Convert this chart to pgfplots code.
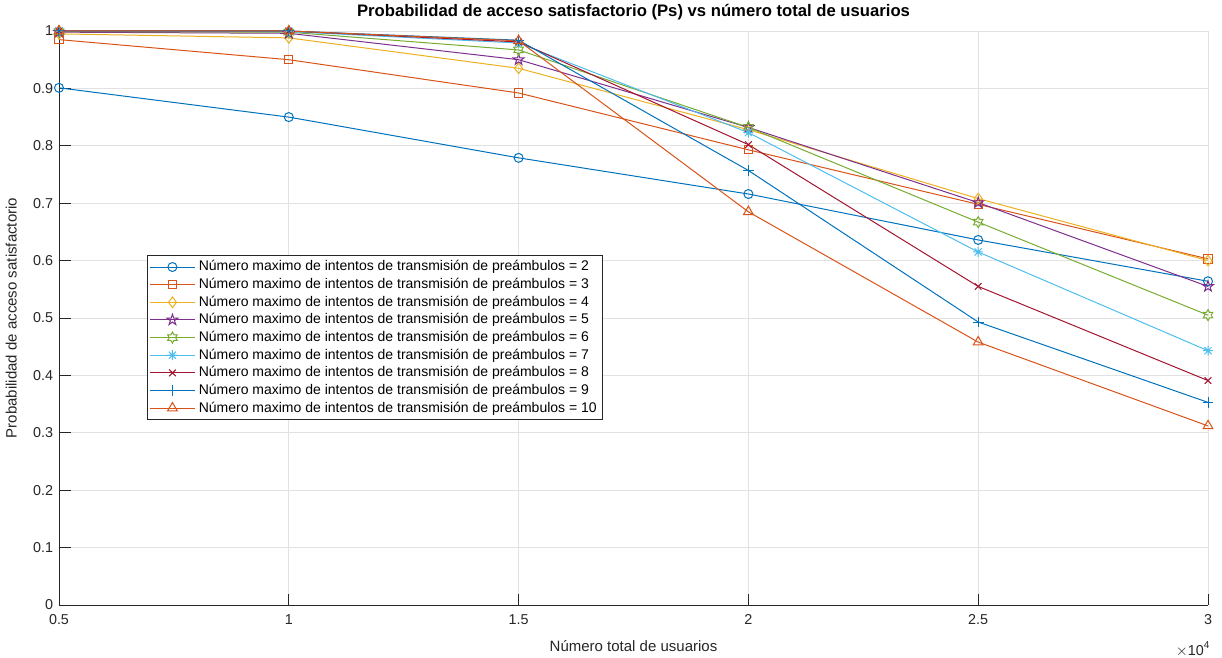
\documentclass[border=0pt]{standalone}
\usepackage{fontspec}
\setmainfont{Liberation Sans}
\usepackage{pgfplots}
\pgfplotsset{compat=1.18}
\usetikzlibrary{plotmarks}

\definecolor{mBlue}{RGB}{0,114,189}
\definecolor{mOrange}{RGB}{217,83,25}
\definecolor{mYellow}{RGB}{237,177,32}
\definecolor{mPurple}{RGB}{126,47,142}
\definecolor{mGreen}{RGB}{119,172,48}
\definecolor{mCyan}{RGB}{77,190,238}
\definecolor{mRed}{RGB}{162,20,47}
\definecolor{axgray}{RGB}{38,38,38}
\definecolor{gridgray}{RGB}{226,226,226}

% outlined five-pointed star
\pgfdeclareplotmark{pentagram}{%
  \pgfpathmoveto{\pgfpointpolar{90}{\pgfplotmarksize}}%
  \pgfpathlineto{\pgfpointpolar{126}{0.382\pgfplotmarksize}}%
  \pgfpathlineto{\pgfpointpolar{162}{\pgfplotmarksize}}%
  \pgfpathlineto{\pgfpointpolar{198}{0.382\pgfplotmarksize}}%
  \pgfpathlineto{\pgfpointpolar{234}{\pgfplotmarksize}}%
  \pgfpathlineto{\pgfpointpolar{270}{0.382\pgfplotmarksize}}%
  \pgfpathlineto{\pgfpointpolar{306}{\pgfplotmarksize}}%
  \pgfpathlineto{\pgfpointpolar{342}{0.382\pgfplotmarksize}}%
  \pgfpathlineto{\pgfpointpolar{18}{\pgfplotmarksize}}%
  \pgfpathlineto{\pgfpointpolar{54}{0.382\pgfplotmarksize}}%
  \pgfpathclose\pgfusepathqstroke}
% outlined six-pointed star
\pgfdeclareplotmark{hexagram}{%
  \pgfpathmoveto{\pgfpointpolar{90}{\pgfplotmarksize}}%
  \pgfpathlineto{\pgfpointpolar{120}{0.577\pgfplotmarksize}}%
  \pgfpathlineto{\pgfpointpolar{150}{\pgfplotmarksize}}%
  \pgfpathlineto{\pgfpointpolar{180}{0.577\pgfplotmarksize}}%
  \pgfpathlineto{\pgfpointpolar{210}{\pgfplotmarksize}}%
  \pgfpathlineto{\pgfpointpolar{240}{0.577\pgfplotmarksize}}%
  \pgfpathlineto{\pgfpointpolar{270}{\pgfplotmarksize}}%
  \pgfpathlineto{\pgfpointpolar{300}{0.577\pgfplotmarksize}}%
  \pgfpathlineto{\pgfpointpolar{330}{\pgfplotmarksize}}%
  \pgfpathlineto{\pgfpointpolar{0}{0.577\pgfplotmarksize}}%
  \pgfpathlineto{\pgfpointpolar{30}{\pgfplotmarksize}}%
  \pgfpathlineto{\pgfpointpolar{60}{0.577\pgfplotmarksize}}%
  \pgfpathclose\pgfusepathqstroke}
% eight-ray asterisk
\pgfdeclareplotmark{star8}{%
  \pgfpathmoveto{\pgfpointpolar{0}{\pgfplotmarksize}}\pgfpathlineto{\pgfpointpolar{180}{\pgfplotmarksize}}%
  \pgfpathmoveto{\pgfpointpolar{90}{\pgfplotmarksize}}\pgfpathlineto{\pgfpointpolar{270}{\pgfplotmarksize}}%
  \pgfpathmoveto{\pgfpointpolar{45}{\pgfplotmarksize}}\pgfpathlineto{\pgfpointpolar{225}{\pgfplotmarksize}}%
  \pgfpathmoveto{\pgfpointpolar{135}{\pgfplotmarksize}}\pgfpathlineto{\pgfpointpolar{315}{\pgfplotmarksize}}%
  \pgfusepathqstroke}

\begin{document}
\begin{tikzpicture}
\begin{axis}[
  name=ax,
  scale only axis,
  width=689.4pt, height=344.4pt,
  xmin=5000, xmax=30000, ymin=0, ymax=1,
  axis x line*=bottom, axis y line*=left,
  xtick={5000,10000,15000,20000,25000,30000},
  xticklabels={0.5,1,1.5,2,2.5,3},
  scaled x ticks=false,
  ytick={0,0.1,...,1},
  /pgf/number format/assume math mode=true,
  tick label style={font=\fontsize{8.6}{10}\selectfont, text=axgray},
  yticklabel style={/pgf/number format/fixed, /pgf/number format/precision=1},
  xticklabel style={yshift=-2pt},
  tick align=inside,
  major tick length=6.9pt,
  every tick/.style={axgray, line width=0.5pt},
  axis line style={axgray, line width=0.5pt, -},
  grid=major,
  major grid style={gridgray, line width=0.5pt},
  title={\bfseries Probabilidad de acceso satisfactorio (Ps) vs número total de usuarios},
  title style={font=\fontsize{10}{12}\selectfont, yshift=-3pt},
  xlabel={Número total de usuarios},
  ylabel={Probabilidad de acceso satisfactorio},
  label style={font=\fontsize{9}{11}\selectfont, text=axgray},
  xlabel style={yshift=-3pt},
  ylabel style={yshift=3pt},
  legend style={at={(rel axis cs:0.0766,0.61)}, anchor=north west,
    font=\fontsize{8.4}{9.8}\selectfont, draw=axgray, line width=0.5pt,
    inner sep=1.2pt, row sep=-1.1pt, cells={anchor=west}},
  legend image code/.code={%
    \draw[#1, mark repeat=2, mark phase=2] plot coordinates {(0pt,0pt) (13.5pt,0pt) (27pt,0pt)};},
  every axis plot/.append style={line width=0.6pt, mark options={solid}},
]
\addplot[mBlue, mark=o, mark size=2.7pt] coordinates {
  (5000,0.901) (10000,0.850) (15000,0.779) (20000,0.716) (25000,0.636) (30000,0.564)};
\addlegendentry{Número maximo de intentos de transmisión de preámbulos = 2}
\addplot[mOrange, mark=square, mark size=2.5pt] coordinates {
  (5000,0.985) (10000,0.950) (15000,0.892) (20000,0.793) (25000,0.698) (30000,0.603)};
\addlegendentry{Número maximo de intentos de transmisión de preámbulos = 3}
\addplot[mYellow, mark=diamond, mark size=3.2pt] coordinates {
  (5000,0.995) (10000,0.988) (15000,0.935) (20000,0.828) (25000,0.708) (30000,0.600)};
\addlegendentry{Número maximo de intentos de transmisión de preámbulos = 4}
\addplot[mPurple, mark=pentagram, mark size=3.4pt] coordinates {
  (5000,0.998) (10000,0.996) (15000,0.950) (20000,0.832) (25000,0.701) (30000,0.555)};
\addlegendentry{Número maximo de intentos de transmisión de preámbulos = 5}
\addplot[mGreen, mark=hexagram, mark size=3.3pt] coordinates {
  (5000,0.999) (10000,0.998) (15000,0.967) (20000,0.832) (25000,0.667) (30000,0.505)};
\addlegendentry{Número maximo de intentos de transmisión de preámbulos = 6}
\addplot[mCyan, mark=star8, mark size=3pt] coordinates {
  (5000,1.000) (10000,0.999) (15000,0.979) (20000,0.823) (25000,0.615) (30000,0.443)};
\addlegendentry{Número maximo de intentos de transmisión de preámbulos = 7}
\addplot[mRed, mark=x, mark size=2.8pt] coordinates {
  (5000,1.000) (10000,1.000) (15000,0.981) (20000,0.802) (25000,0.555) (30000,0.391)};
\addlegendentry{Número maximo de intentos de transmisión de preámbulos = 8}
\addplot[mBlue, mark=+, mark size=3.2pt] coordinates {
  (5000,1.000) (10000,1.000) (15000,0.984) (20000,0.757) (25000,0.493) (30000,0.353)};
\addlegendentry{Número maximo de intentos de transmisión de preámbulos = 9}
\addplot[mOrange, mark=triangle, mark size=3.4pt] coordinates {
  (5000,1.000) (10000,1.000) (15000,0.983) (20000,0.685) (25000,0.458) (30000,0.312)};
\addlegendentry{Número maximo de intentos de transmisión de preámbulos = 10}
\end{axis}
\node[anchor=north east, font=\fontsize{8.6}{10}\selectfont, text=axgray, inner sep=0pt]
  at ([xshift=1.5pt,yshift=-22pt]ax.south east) {$\times$10\textsuperscript{4}};
\pgfresetboundingbox
\path ([xshift=-35.4pt,yshift=-31.2pt]ax.south west) rectangle ([xshift=8.4pt,yshift=18.6pt]ax.north east);
\end{tikzpicture}
\end{document}
